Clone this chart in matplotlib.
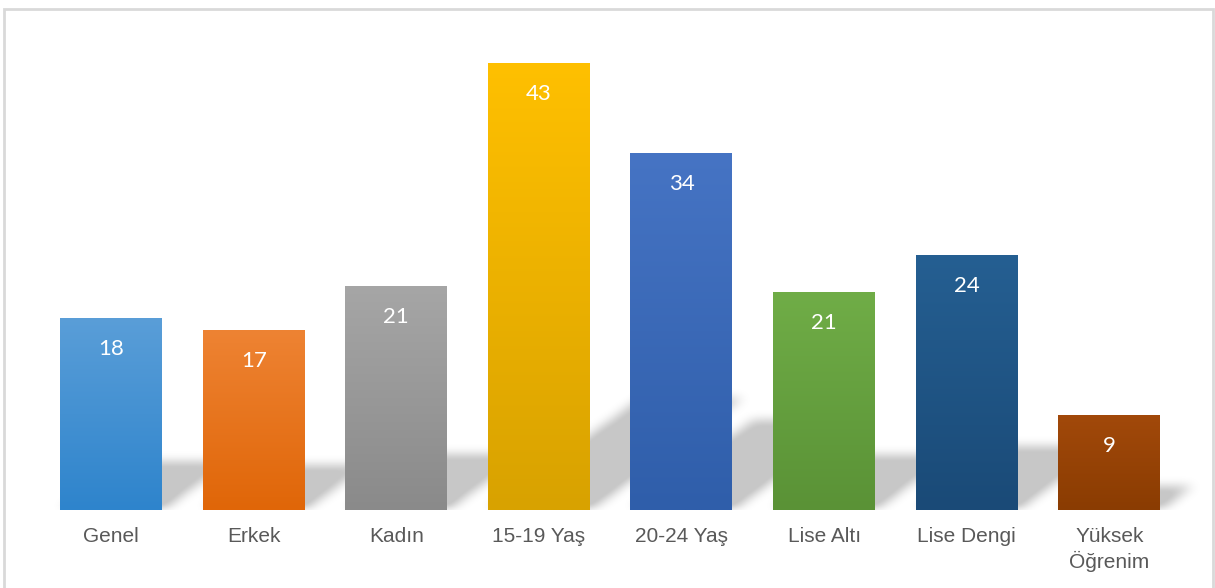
import numpy as np
import matplotlib
matplotlib.use("Agg")
import matplotlib.pyplot as plt
from matplotlib.colors import LinearSegmentedColormap, to_rgb
from matplotlib.path import Path
from matplotlib.patches import Rectangle

categories = ["Genel", "Erkek", "Kadın", "15-19 Yaş", "20-24 Yaş",
              "Lise Altı", "Lise Dengi", "Yüksek\nÖğrenim"]
values = [18.4, 17.2, 21.4, 42.8, 34.2, 20.9, 24.4, 9.1]
top_colors = ["#5A9ED8", "#EE8333", "#A6A6A6", "#FFC000",
              "#4674C4", "#70AD47", "#255F92", "#A2490A"]
bottom_colors = ["#2E84CC", "#E06608", "#8A8A8A", "#D8A200",
                 "#2F5EAA", "#5A9236", "#1A4A77", "#8A3C02"]

fig = plt.figure(figsize=(12.15, 5.88), dpi=100)
fig.patches.append(Rectangle((4 / 1215, -0.01), 1209 / 1215, 0.995,
                             transform=fig.transFigure, fill=False,
                             edgecolor="#D9D9D9", linewidth=2))
ax = fig.add_axes([0.0327, 0.1327, 0.939, 0.8316])

ymax = 46.8
x = np.arange(len(values))
width = 0.715

# soft perspective shadows behind each bar
gx = np.linspace(-0.5, 7.8, 1150)
gy = np.linspace(0, 18, 260)
GX, GY = np.meshgrid(gx, gy)
pts = np.column_stack([GX.ravel(), GY.ravel()])
shade = np.zeros_like(GX)
for i, v in enumerate(values):
    hs = v * 0.25
    s = v * 0.025
    poly = Path([(i - width / 2, 0), (i + width / 2, 0),
                 (i + width / 2 + s, hs), (i - width / 2 + s, hs)])
    m = poly.contains_points(pts).reshape(GX.shape).astype(float)
    m *= np.clip(1 - 0.2 * GY / hs, 0, 1)
    shade = np.maximum(shade, m)


def box_blur(a, k, axis):
    ker = np.ones(k) / k
    return np.apply_along_axis(lambda r: np.convolve(r, ker, mode="same"), axis, a)


for _ in range(3):
    shade = box_blur(shade, 11, 1)
    shade = box_blur(shade, 13, 0)
rgba = np.zeros(shade.shape + (4,))
rgba[..., 3] = np.clip(shade * 0.3, 0, 0.22)
ax.imshow(rgba, extent=(gx[0], gx[-1], gy[0], gy[-1]), origin="lower",
          aspect="auto", zorder=1, clip_on=False)

bars = ax.bar(x, values, width=width, color="none", zorder=2)
for i, (b, v) in enumerate(zip(bars, values)):
    cmap = LinearSegmentedColormap.from_list(
        "g", [to_rgb(bottom_colors[i]), to_rgb(top_colors[i])])
    grad = np.linspace(0, 1, 256).reshape(-1, 1)
    im = ax.imshow(grad, cmap=cmap, origin="lower", aspect="auto",
                   extent=(b.get_x(), b.get_x() + b.get_width(), 0, v),
                   zorder=3)
    im.set_clip_path(b)
    ax.annotate(f"{v:.0f}", xy=(i, v), xytext=(0, -31), textcoords="offset pixels",
                ha="center", va="center", color="white", fontsize=16,
                family=["Lato", "DejaVu Sans"], zorder=4)

ax.set_xlim(-0.5, 7.5)
ax.set_ylim(0, ymax)
ax.set_xticks(x)
ax.set_xticklabels(categories, fontsize=15, color="#595959",
                   family=["Liberation Sans", "DejaVu Sans"], linespacing=1.3)
ax.tick_params(axis="x", length=0, pad=12)
ax.set_yticks([])
for sp in ax.spines.values():
    sp.set_visible(False)

fig.savefig("out.png", dpi=100)
